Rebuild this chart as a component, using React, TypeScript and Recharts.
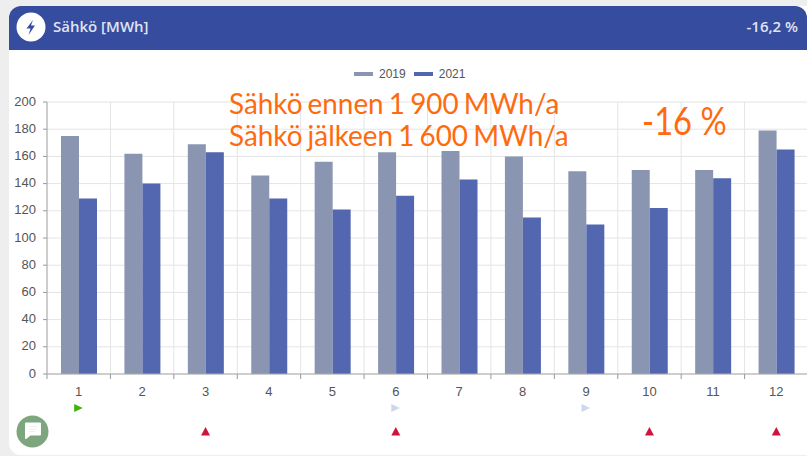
import { Bar, BarChart, CartesianGrid, Legend, XAxis, YAxis } from "recharts";

const months = ["1", "2", "3", "4", "5", "6", "7", "8", "9", "10", "11", "12"];
const values2019 = [175, 162, 169, 146, 156, 163, 164, 160, 149, 150, 150, 179];
const values2021 = [129, 140, 163, 129, 121, 131, 143, 115, 110, 122, 144, 165];
const yTicks = [0, 20, 40, 60, 80, 100, 120, 140, 160, 180, 200];

// small status markers under the month labels
const greenMonths = ["1"];
const paleMonths = ["6", "9"];
const redMonths = ["3", "6", "10", "12"];

const chartData = months.map((month, index) => ({
  month,
  y2019: values2019[index],
  y2021: values2021[index],
}));

const color2019 = "#8a96b1";
const color2021 = "#5366b0";
const orange = "#ff6a0e";
const band = 63.4;

function MonthTick({ x, y, payload }: any) {
  const month = payload.value;
  const axisY = y - 8;
  const left = x - band / 2;
  return (
    <g>
      <line x1={left} x2={left} y1={axisY} y2={axisY + 5} stroke="#999" />
      {month === "12" && (
        <line x1={left + band} x2={left + band} y1={axisY} y2={axisY + 5} stroke="#999" />
      )}
      <text x={x} y={y + 13.5} textAnchor="middle" fontSize={13} fill="#555" fontFamily="Liberation Sans">
        {month}
      </text>
      {greenMonths.includes(month) && (
        <polygon points={`${x - 4.5},${y + 22} ${x + 4},${y + 26} ${x - 4.5},${y + 30}`} fill="#3cb40a" />
      )}
      {paleMonths.includes(month) && (
        <polygon points={`${x - 4.5},${y + 22} ${x + 4},${y + 26} ${x - 4.5},${y + 30}`} fill="#cdd7ee" />
      )}
      {redMonths.includes(month) && (
        <polygon points={`${x},${y + 45} ${x + 4.5},${y + 53.5} ${x - 4.5},${y + 53.5}`} fill="#d2143c" />
      )}
    </g>
  );
}

function LegendRow() {
  const items = [
    { label: "2019", color: color2019 },
    { label: "2021", color: color2021 },
  ];
  return (
    <div style={{ display: "flex", fontFamily: "Liberation Sans", fontSize: 12, color: "#555" }}>
      {items.map((item) => (
        <div key={item.label} style={{ display: "flex", alignItems: "center", marginRight: 8 }}>
          <span style={{ width: 19, height: 4, background: item.color, marginRight: 6 }} />
          {item.label}
        </div>
      ))}
    </div>
  );
}

export default function App() {
  return (
    <div style={{ position: "absolute", left: 0, top: 0, width: 807, height: 456, overflow: "hidden", background: "#eeeeee" }}>
      <div style={{ position: "absolute", left: 9, top: 6, width: 830, height: 449, background: "#fff", borderRadius: 12 }} />
      <div
        style={{
          position: "absolute",
          left: 9,
          top: 6,
          width: 798,
          height: 44,
          background: "#364c9e",
          borderRadius: "12px 12px 0 0",
        }}
      />
      <svg style={{ position: "absolute", left: 16, top: 12 }} width={30} height={30}>
        <circle cx={15} cy={15} r={14.5} fill="#fff" />
        <polygon points="17,8 10.5,16.5 14.5,16.5 12.5,23 19,13.5 15,13.5" fill="#364c9e" />
      </svg>
      <div
        style={{
          position: "absolute",
          left: 53,
          top: 17,
          color: "#e0e4f2",
          fontFamily: "Open Sans",
          fontWeight: 600,
          fontSize: 15,
          lineHeight: "18px",
        }}
      >
        Sähkö [MWh]
      </div>
      <div
        style={{
          position: "absolute",
          right: 9,
          top: 17,
          color: "#e0e4f2",
          fontFamily: "Open Sans",
          fontWeight: 600,
          fontSize: 15,
          lineHeight: "18px",
        }}
      >
        -16,2 %
      </div>

      <div style={{ position: "absolute", left: 0, top: 0 }}>
        <BarChart
          width={808}
          height={456}
          data={chartData}
          barSize={18}
          barGap={0}
          margin={{ top: 102, right: 0, bottom: 0, left: 0 }}
        >
          <CartesianGrid
            stroke="#e4e4e4"
            verticalCoordinatesGenerator={({ offset }: any) =>
              months.map((_, i) => offset.left + (i * offset.width) / months.length)
            }
          />
          <XAxis
            dataKey="month"
            height={68}
            interval={0}
            tickLine={false}
            axisLine={{ stroke: "#aaa" }}
            tick={<MonthTick />}
          />
          <YAxis
            width={47}
            domain={[0, 200]}
            ticks={yTicks}
            interval={0}
            tickSize={4}
            tickMargin={7}
            axisLine={{ stroke: "#aaa" }}
            tickLine={{ stroke: "#999" }}
            tick={{ fontSize: 13, fill: "#555", fontFamily: "Liberation Sans", dy: -1 }}
          />
          <Legend
            content={<LegendRow />}
            wrapperStyle={{ position: "absolute", left: 354, top: 67, width: "auto" }}
          />
          <Bar dataKey="y2019" fill={color2019} isAnimationActive={false} />
          <Bar dataKey="y2021" fill={color2021} isAnimationActive={false} />
        </BarChart>
      </div>

      <div
        style={{
          position: "absolute",
          left: 229,
          top: 87,
          color: orange,
          fontFamily: "Lato",
          fontSize: 29,
          lineHeight: "32px",
          whiteSpace: "nowrap",
          wordSpacing: -2,
          transform: "scaleX(0.96)",
          transformOrigin: "left top",
        }}
      >
        Sähkö ennen 1 900 MWh/a
        <br />
        Sähkö jälkeen 1 600 MWh/a
      </div>
      <div
        style={{
          position: "absolute",
          left: 642,
          top: 98,
          color: orange,
          fontFamily: "Lato",
          fontSize: 38,
          lineHeight: "44px",
          whiteSpace: "nowrap",
          transform: "scaleX(0.86)",
          transformOrigin: "left top",
        }}
      >
        -16 %
      </div>

      <svg style={{ position: "absolute", left: 16, top: 415 }} width={33} height={33}>
        <circle cx={16.5} cy={16.5} r={16} fill="#7da67f" />
        <path d="M10 8.5 H24 V19.5 H14 L10 23 Z" fill="#fff" stroke="#fff" strokeLinejoin="round" strokeWidth={2} />
        <path d="M13 11.5 H21 M13 14 H21 M13 16.5 H19" stroke="#eef2ee" strokeWidth={1} />
      </svg>
    </div>
  );
}
